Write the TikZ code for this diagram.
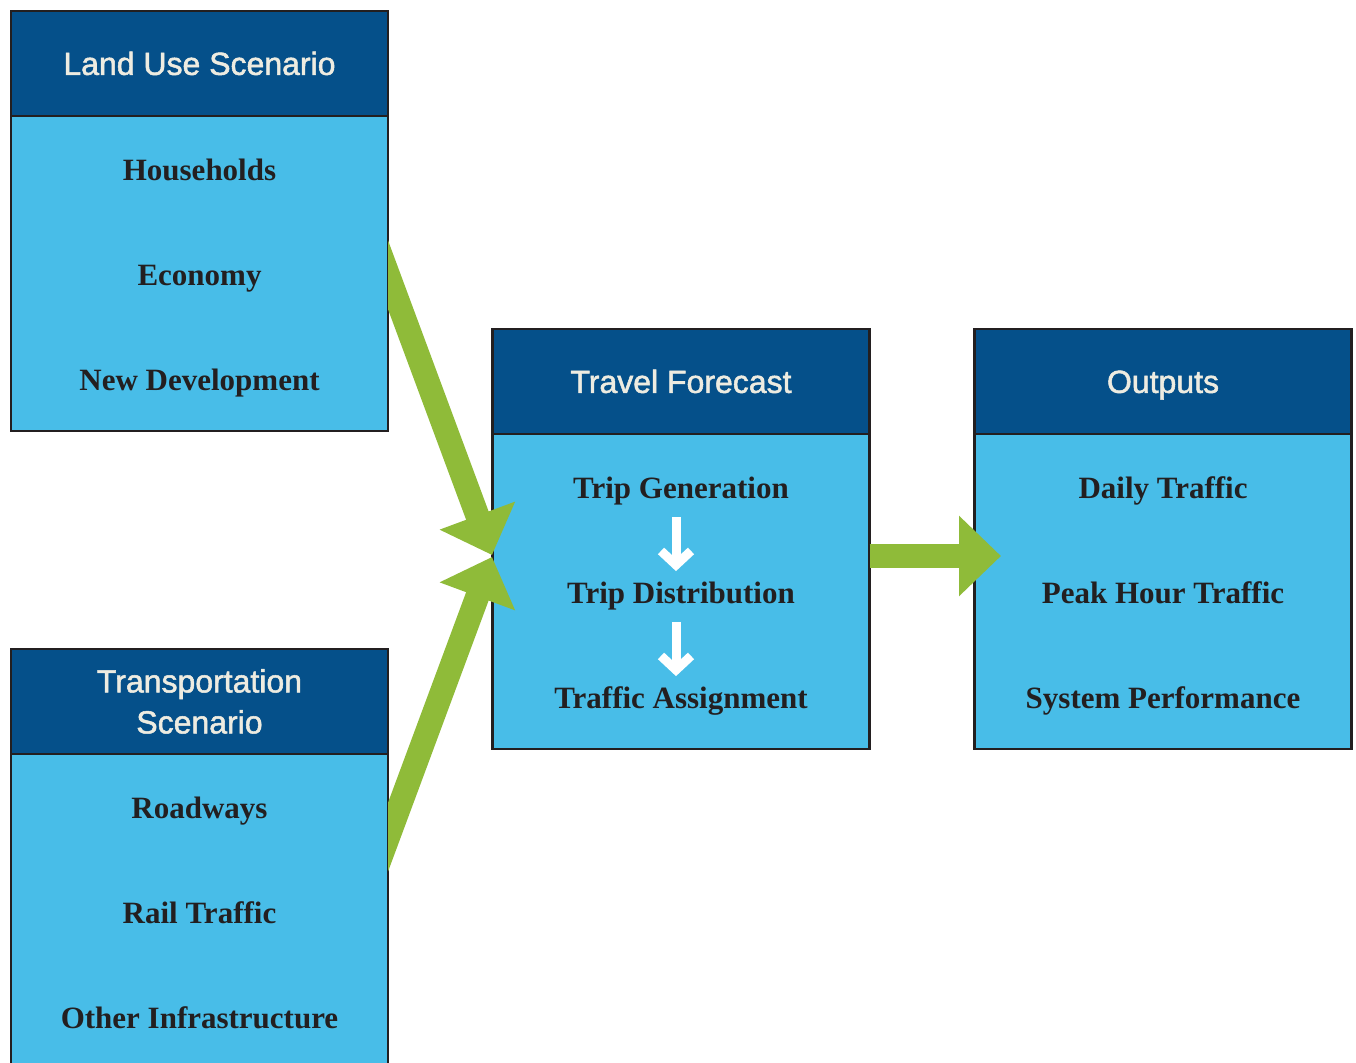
\documentclass[tikz,border=0pt]{standalone}
\usepackage{fontspec}
\setmainfont{Liberation Serif}
\newfontfamily\headfont[FakeBold=1.6]{Liberation Sans}
\usetikzlibrary{arrows.meta}
\usetikzlibrary{calc}
\usetikzlibrary{positioning}

\definecolor{headblue}{RGB}{5,80,138}
\definecolor{bodyblue}{RGB}{72,189,232}
\definecolor{flowgreen}{RGB}{143,187,57}
\definecolor{boxline}{RGB}{35,31,32}
\definecolor{headtext}{RGB}{238,236,225}

\begin{document}
\begin{tikzpicture}[x=0.5pt,y=-0.5pt,
    head/.style={draw=boxline,line width=1.25pt,fill=headblue,text=headtext,minimum width=188.5pt,minimum height=52.5pt,inner sep=0pt,outer sep=0pt,align=center,font=\headfont\fontsize{16}{20.5}\selectfont},
    headone/.style={head,text height=12pt,text depth=0.6pt},
    body/.style={draw=boxline,line width=1.25pt,fill=bodyblue,minimum width=188.5pt,minimum height=157.5pt,inner sep=0pt,outer sep=0pt},
    item/.style={text=boxline,inner sep=0pt,text height=12pt,text depth=2pt,font=\bfseries\fontsize{15.5}{18}\selectfont},
    fatarrow/.style={flowgreen,line width=12pt,-{Triangle[length=21pt,width=39pt]}},
    downarrow/.style={white,line width=4.5pt,-{Straight Barb[length=7pt,width=15pt]},shorten <=7pt,shorten >=4pt}]
    \useasboundingbox (0,0) rectangle (1356,1063);

    % land use
    \node[headone] (lu-head) at (199.5,63.5) {Land Use Scenario};
    \node[body,below=0pt of lu-head] (lu-body) {};
    \node[item] (hh) at ($(lu-body.north)+(0,54.5)$) {Households};
    \node[item] (eco) at ($(lu-body.north)+(0,159.5)$) {Economy};
    \node[item] (newdev) at ($(lu-body.north)+(0,264.5)$) {New Development};

    % transportation
    \node[head] (tr-head) at (199.5,701.5) {Transportation\\Scenario};
    \node[body,below=0pt of tr-head] (tr-body) {};
    \node[item] (road) at ($(tr-body.north)+(0,54.5)$) {Roadways};
    \node[item] (rail) at ($(tr-body.north)+(0,159.5)$) {Rail Traffic};
    \node[item] (infra) at ($(tr-body.north)+(0,264.5)$) {Other Infrastructure};

    % travel forecast
    \node[headone] (tf-head) at (681,381.5) {Travel Forecast};
    \node[body,below=0pt of tf-head] (tf-body) {};
    \node[item] (tg) at ($(tf-body.north)+(0,54.5)$) {Trip Generation};
    \node[item] (td) at ($(tf-body.north)+(0,159.5)$) {Trip Distribution};
    \node[item] (ta) at ($(tf-body.north)+(0,264.5)$) {Traffic Assignment};
    \draw[downarrow] ([xshift=-2.5pt]tg.south) -- ([xshift=-2.5pt]td.north);
    \draw[downarrow] ([xshift=-2.5pt]td.south) -- ([xshift=-2.5pt]ta.north);

    % outputs
    \node[headone] (out-head) at (1163,381.5) {Outputs};
    \node[body,below=0pt of out-head] (out-body) {};
    \node[item] (daily) at ($(out-body.north)+(0,54.5)$) {Daily Traffic};
    \node[item] (peak) at ($(out-body.north)+(0,159.5)$) {Peak Hour Traffic};
    \node[item] (perf) at ($(out-body.north)+(0,264.5)$) {System Performance};

    % flows
    \coordinate (lu-start) at (358,194);
    \coordinate (tr-start) at (358,918);
    \coordinate (tip-a) at (492,555);
    \coordinate (tip-b) at (492,557);
    \coordinate (tip-c) at (1001,556);
    \begin{scope}
        \clip (lu-body.east |- 0,0) rectangle (tf-body.east |- 0,1063);
        \draw[fatarrow] (lu-start) -- (tip-a);
        \draw[fatarrow] (tr-start) -- (tip-b);
    \end{scope}
    \draw[fatarrow] (tf-body.east |- tip-c) -- (tip-c);
\end{tikzpicture}
\end{document}
